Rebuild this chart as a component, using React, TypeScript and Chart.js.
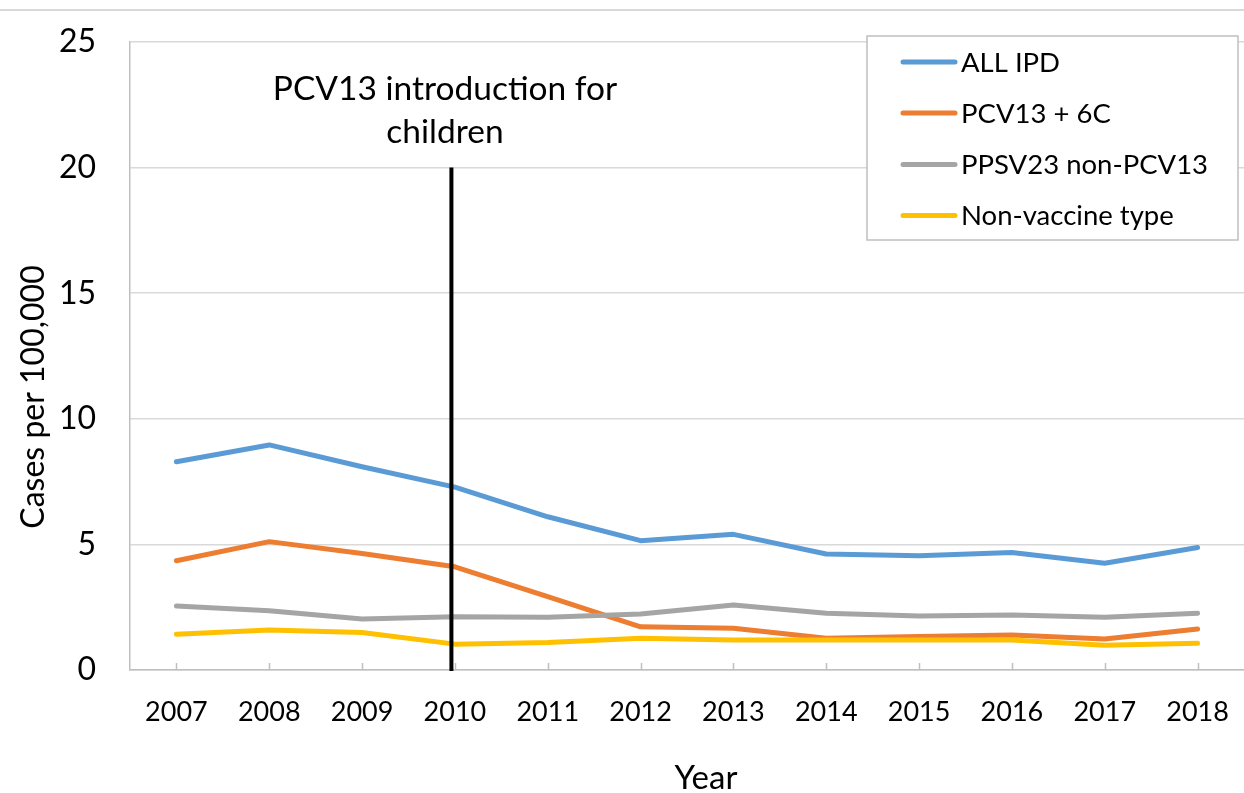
import React, { useEffect, useRef } from "react";
import { Chart, registerables } from "chart.js";

Chart.register(...registerables);

const years = ["2007", "2008", "2009", "2010", "2011", "2012", "2013", "2014", "2015", "2016", "2017", "2018"];
const allIPD = [8.29, 8.96, 8.09, 7.28, 6.1, 5.15, 5.4, 4.62, 4.55, 4.68, 4.25, 4.88];
const pcv13 = [4.35, 5.11, 4.64, 4.11, 2.92, 1.72, 1.66, 1.26, 1.33, 1.39, 1.23, 1.63];
const ppsv23 = [2.55, 2.36, 2.03, 2.12, 2.1, 2.23, 2.59, 2.26, 2.15, 2.19, 2.1, 2.26];
const nonVaccine = [1.42, 1.59, 1.49, 1.03, 1.09, 1.26, 1.19, 1.19, 1.19, 1.19, 0.99, 1.06];
const seriesNames = ["ALL IPD", "PCV13 + 6C", "PPSV23 non-PCV13", "Non-vaccine type"];
const seriesColors = ["#5B9BD5", "#ED7D31", "#A5A5A5", "#FFC000"];
const yTicks = [0, 5, 10, 15, 20, 25];
const introYear = "2010";
const introLevel = 20;
const annotationLines = ["PCV13 introduction for", "children"];
const xTitle = "Year";
const yTitle = "Cases per 100,000";

const FONT = "Lato, 'Open Sans', sans-serif";

const overlayPlugin = {
  id: "overlay",
  afterDatasetsDraw(chart: any) {
    const ctx = chart.ctx as CanvasRenderingContext2D;
    const x = chart.scales.x;
    const y = chart.scales.y;
    ctx.save();
    // top divider line
    ctx.strokeStyle = "#d9d9d9";
    ctx.lineWidth = 2;
    ctx.beginPath();
    ctx.moveTo(0, 10);
    ctx.lineTo(chart.width, 10);
    ctx.stroke();

    // small upward tick marks on x axis
    ctx.strokeStyle = "#bfbfbf";
    ctx.lineWidth = 1.5;
    const axisY = y.getPixelForValue(0);
    years.forEach((_, i) => {
      const px = Math.round(x.getPixelForValue(i)) + 0.5;
      ctx.beginPath();
      ctx.moveTo(px, axisY);
      ctx.lineTo(px, axisY - 7);
      ctx.stroke();
    });

    // vertical intro line
    const vx = x.getPixelForValue(years.indexOf(introYear)) - 3.5;
    ctx.strokeStyle = "#000";
    ctx.lineWidth = 4;
    ctx.beginPath();
    ctx.moveTo(vx, y.getPixelForValue(introLevel));
    ctx.lineTo(vx, axisY + 1);
    ctx.stroke();

    // annotation text
    ctx.fillStyle = "#000";
    ctx.textAlign = "center";
    ctx.textBaseline = "alphabetic";
    ctx.font = `33.5px ${FONT}`;
    ctx.fillText(annotationLines[0], 445, 100);
    ctx.fillText(annotationLines[1], 445, 143);

    // axis titles
    ctx.font = `33px ${FONT}`;
    ctx.fillText(xTitle, 706, 789);
    ctx.save();
    ctx.translate(44, 397);
    ctx.rotate(-Math.PI / 2);
    ctx.font = `32px ${FONT}`;
    ctx.fillText(yTitle, 0, 0);
    ctx.restore();

    // legend
    ctx.fillStyle = "#fff";
    ctx.fillRect(867, 36, 371, 204);
    ctx.strokeStyle = "#bfbfbf";
    ctx.lineWidth = 1.5;
    ctx.strokeRect(867, 36, 371, 204);
    const rows = [62, 113, 164.5, 215.5];
    ctx.textAlign = "left";
    ctx.font = `27.5px ${FONT}`;
    seriesNames.forEach((name, i) => {
      ctx.strokeStyle = seriesColors[i];
      ctx.lineWidth = 5;
      ctx.lineCap = "round";
      ctx.beginPath();
      ctx.moveTo(903, rows[i]);
      ctx.lineTo(955, rows[i]);
      ctx.stroke();
      ctx.fillStyle = "#000";
      ctx.fillText(name, 961, rows[i] + 9.5);
    });
    ctx.restore();
  },
};

export default function App() {
  const canvasRef = useRef<HTMLCanvasElement | null>(null);

  useEffect(() => {
    if (!canvasRef.current) return;
    const series = [allIPD, pcv13, ppsv23, nonVaccine];
    const chart = new Chart(canvasRef.current, {
      type: "line",
      data: {
        labels: years,
        datasets: series.map((d, i) => ({
          label: seriesNames[i],
          data: d,
          borderColor: seriesColors[i],
          backgroundColor: seriesColors[i],
          borderWidth: 5,
          borderCapStyle: "round" as const,
          borderJoinStyle: "round" as const,
          pointRadius: 0,
          tension: 0,
          order: 3 - i,
        })),
      },
      options: {
        responsive: false,
        animation: false,
        layout: { padding: { top: 42, right: -5, left: 0, bottom: 0 } },
        plugins: {
          legend: { display: false },
          tooltip: { enabled: false },
          title: { display: false },
        },
        scales: {
          x: {
            type: "category",
            offset: true,
            grid: { display: false, drawTicks: false },
            border: { display: true, color: "#bfbfbf", width: 1.5 },
            ticks: {
              color: "#000",
              font: { family: FONT, size: 27 },
              padding: 26,
              maxRotation: 0,
              autoSkip: false,
            },
            afterFit: (s: any) => {
              s.height = 123;
              s.paddingLeft = 0;
              s.paddingRight = 0;
            },
          },
          y: {
            min: 0,
            max: 25,
            afterBuildTicks: (s: any) => {
              s.ticks = yTicks.map((v) => ({ value: v }));
            },
            grid: { color: "#d9d9d9", lineWidth: 1.5, drawTicks: false },
            border: { display: true, color: "#bfbfbf", width: 1.5 },
            ticks: {
              color: "#000",
              font: { family: FONT, size: 32 },
              padding: 34,
            },
            afterFit: (s: any) => {
              s.width = 130;
              s.paddingTop = 0;
              s.paddingBottom = 0;
            },
          },
        },
      },
      plugins: [overlayPlugin],
    });
    return () => chart.destroy();
  }, []);

  return (
    <div style={{ position: "absolute", left: 0, top: 0, width: 1244, height: 793, background: "#fff" }}>
      <canvas ref={canvasRef} width={1244} height={793} />
    </div>
  );
}
